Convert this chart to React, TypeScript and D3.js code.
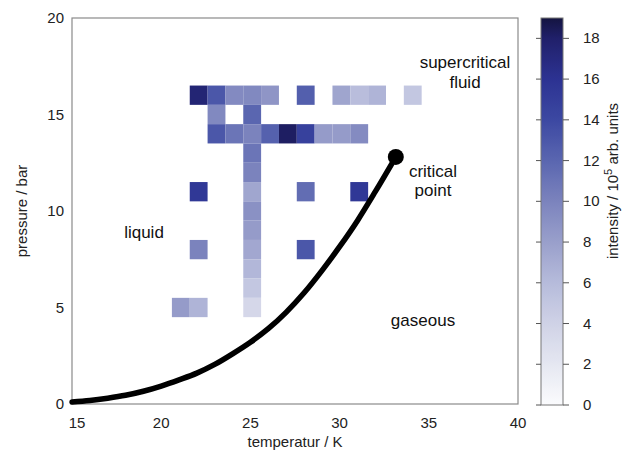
import React from "react";
import * as d3 from "d3";

// heatmap cells (bin centre temperature K, pressure bar, intensity 1e5 arb. units)
const cellT = [
  22.1, 23.1, 24.1, 25.1, 26.1, 28.1, 30.1, 31.1, 32.1, 34.1,
  23.1, 25.1,
  23.1, 24.1, 25.1, 26.1, 27.1, 28.1, 29.1, 30.1, 31.1,
  25.1, 25.1, 25.1, 25.1, 25.1, 25.1, 25.1, 25.1, 25.1,
  22.1, 22.1, 21.1, 22.1, 28.1, 28.1, 31.1,
];
const cellP = [
  16, 16, 16, 16, 16, 16, 16, 16, 16, 16,
  15, 15,
  14, 14, 14, 14, 14, 14, 14, 14, 14,
  13, 12, 11, 10, 9, 8, 7, 6, 5,
  11, 8, 5, 5, 11, 8, 11,
];
const cellI = [
  17.5, 13, 9.5, 9.6, 8.7, 12.5, 7.6, 5.8, 6.5, 5,
  9.6, 12,
  13, 11, 10, 12.3, 18.2, 14.6, 8.3, 8.3, 9.4,
  11, 10, 7.5, 9, 8.3, 7.4, 6.3, 5, 3.5,
  15.5, 10, 8.3, 6.5, 11.5, 13, 15.5,
];

// vapour pressure curve
const curveT = [15, 16, 17, 18, 19, 20, 21, 22, 23, 24, 25, 26, 27, 28, 29, 30, 31, 32, 33.15];
const curveP = [0.1, 0.18, 0.3, 0.45, 0.66, 0.93, 1.25, 1.6, 2.05, 2.6, 3.2, 3.9, 4.75, 5.75, 6.9, 8.15, 9.5, 11.0, 12.8];
const critT = 33.15;
const critP = 12.8;

const xTicks = [15, 20, 25, 30, 35, 40];
const yTicks = [0, 5, 10, 15, 20];
const cTicks = [0, 2, 4, 6, 8, 10, 12, 14, 16, 18];

const cStops = [0, 2, 4, 6, 8, 10, 12, 14, 16, 18, 19];
const cColors = [
  "#fbfbfd", "#e5e7f1", "#cfd2e6", "#b6bbdb", "#999fcb", "#7b83bd",
  "#5a66b0", "#3c48a2", "#2c3292", "#20206a", "#141440",
];

const FONT = "'Liberation Sans', Arial, sans-serif";

export default function App() {
  const x = d3.scaleLinear().domain([15, 40]).range([72, 518]);
  const y = d3.scaleLinear().domain([0, 20]).range([404, 18]);
  const color = d3
    .scaleLinear<string>()
    .domain(cStops)
    .range(cColors)
    .interpolate(d3.interpolateRgb);
  const cy = d3.scaleLinear().domain([0, 19]).range([405, 18]);

  const line = d3
    .line<number>()
    .x((_, i) => x(curveT[i]))
    .y((_, i) => y(curveP[i]))
    .curve(d3.curveMonotoneX);

  const gradStops = d3.range(0, 19.01, 0.25);
  const cbX0 = 541;
  const cbX1 = 563;

  return (
    <svg
      width={626}
      height={454}
      style={{ position: "absolute", left: 0, top: 0, background: "#fff" }}
      fontFamily={FONT}
    >
      <defs>
        <linearGradient id="cb" x1="0" y1="1" x2="0" y2="0">
          {gradStops.map((v) => (
            <stop key={v} offset={v / 19} stopColor={color(v)} />
          ))}
        </linearGradient>
      </defs>

      {/* cells */}
      {cellT.map((t, i) => (
        <rect
          key={i}
          x={x(t - 0.5)}
          y={y(cellP[i] + 0.5)}
          width={x(t + 0.5) - x(t - 0.5)}
          height={y(cellP[i] - 0.5) - y(cellP[i] + 0.5)}
          fill={color(cellI[i])}
        />
      ))}

      {/* frame */}
      <rect x={72} y={18} width={446} height={386} fill="none" stroke="#8a8a8a" strokeWidth={1.2} />

      {/* curve */}
      <path
        d={line(curveT) || ""}
        fill="none"
        stroke="#000"
        strokeWidth={5.5}
        strokeLinecap="round"
      />
      <circle cx={x(critT)} cy={y(critP)} r={8} fill="#000" />

      {/* ticks */}
      {xTicks.map((t) => (
        <text key={t} x={x(t) + (t === 15 ? 5 : 0)} y={428} textAnchor="middle" fontSize={15} fill="#222">
          {t}
        </text>
      ))}
      {yTicks.map((t) => (
        <text key={t} x={64} y={y(t) + 5} textAnchor="end" fontSize={15} fill="#222">
          {t}
        </text>
      ))}
      <text x={295} y={447} textAnchor="middle" fontSize={15} fill="#222">
        temperatur / K
      </text>
      <text
        transform={`translate(27,211) rotate(-90)`}
        textAnchor="middle"
        fontSize={15}
        fill="#222"
      >
        pressure / bar
      </text>

      {/* region labels */}
      <text x={465} y={68} textAnchor="middle" fontSize={17} fill="#111">supercritical</text>
      <text x={465} y={88} textAnchor="middle" fontSize={17} fill="#111">fluid</text>
      <text x={433} y={177} textAnchor="middle" fontSize={17} fill="#111">critical</text>
      <text x={433} y={196} textAnchor="middle" fontSize={17} fill="#111">point</text>
      <text x={144} y={238} textAnchor="middle" fontSize={17} fill="#111">liquid</text>
      <text x={423} y={326} textAnchor="middle" fontSize={17} fill="#111">gaseous</text>

      {/* colorbar */}
      <rect x={cbX0} y={18} width={cbX1 - cbX0} height={387} fill="url(#cb)" stroke="#777" strokeWidth={1} />
      {cTicks.map((t) => (
        <g key={t}>
          <line x1={cbX0 - 5} x2={cbX0} y1={cy(t)} y2={cy(t)} stroke="#555" />
          <line x1={cbX1} x2={cbX1 + 6} y1={cy(t)} y2={cy(t)} stroke="#555" />
          <text x={583} y={cy(t) + 5} fontSize={15} fill="#222">
            {t}
          </text>
        </g>
      ))}
      <text transform={`translate(618,181) rotate(-90)`} textAnchor="middle" fontSize={15} fill="#222">
        intensity / 10
        <tspan fontSize={11} dy={-6}>5</tspan>
        <tspan dy={6}> arb. units</tspan>
      </text>
    </svg>
  );
}
